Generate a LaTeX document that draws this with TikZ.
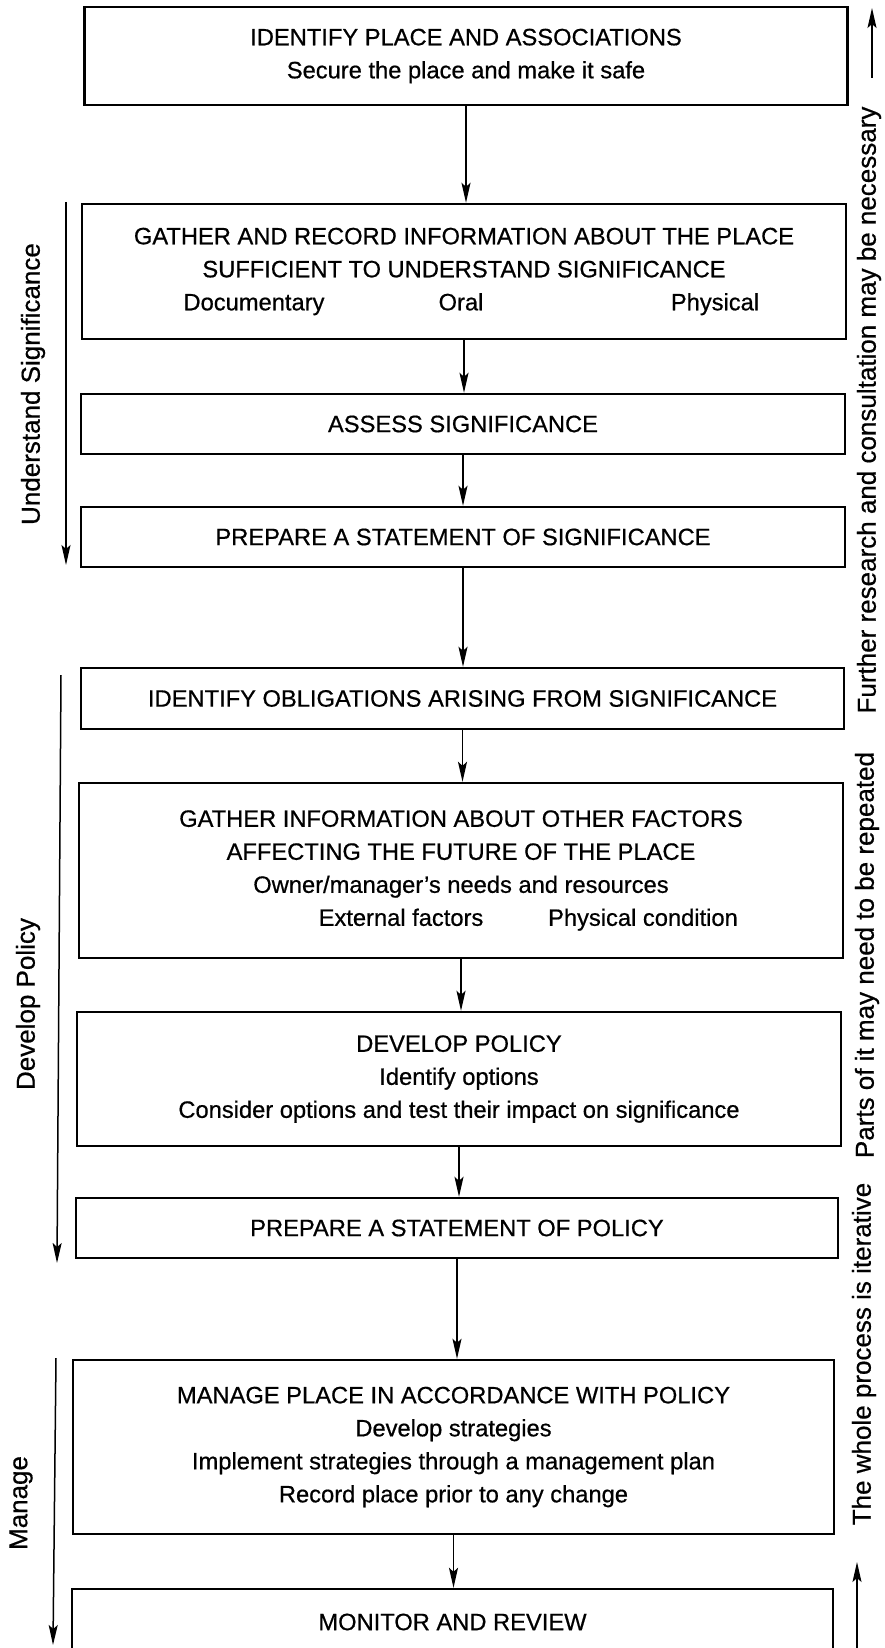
\documentclass[tikz,border=0pt]{standalone}
\usepackage{fontspec}
\setmainfont{Liberation Sans}
\newfontfamily\heavysans[FakeBold=0.6]{Liberation Sans}
\usetikzlibrary{arrows.meta}
\newcommand\boxfont{\heavysans\fontsize{23.7}{33}\selectfont}
\newcommand\sidefont{\heavysans\fontsize{26}{30}\selectfont}
\newcommand\zbox[1]{\makebox[0pt][c]{#1}}
\begin{document}
\begin{tikzpicture}[x=1pt,y=-1pt,
  box/.style={draw, line width=2.4pt, inner sep=0pt, align=center, font=\boxfont},
  arr/.style={-{Stealth[length=20pt,width=9pt,inset=4pt]}, line width=1.5pt},
  side/.style={font=\sidefont, rotate=90, inner sep=0pt}]
\useasboundingbox (0,0) rectangle (884,1648);
\fill[white] (0,0) rectangle (884,1648);

% boxes
\node[box, minimum width=763pt, minimum height=98pt] (b1) at (466,56)
  {IDENTIFY PLACE AND ASSOCIATIONS\\Secure the place and make it safe};
\node[box, minimum width=764pt, minimum height=135pt] (b2) at (464,271.5)
  {GATHER AND RECORD INFORMATION ABOUT THE PLACE\\SUFFICIENT TO UNDERSTAND SIGNIFICANCE\\
   \hspace*{-210pt}\zbox{Documentary}\hspace*{207pt}\zbox{Oral}\hspace*{254pt}\zbox{Physical}\hspace*{-251pt}};
\node[box, minimum width=764pt, minimum height=60pt] (b3) at (463,424) {ASSESS SIGNIFICANCE};
\node[box, minimum width=764pt, minimum height=60pt] (b4) at (463,537) {PREPARE A STATEMENT OF SIGNIFICANCE};
\node[box, minimum width=763pt, minimum height=61pt] (b5) at (462.5,698.5) {IDENTIFY OBLIGATIONS ARISING FROM SIGNIFICANCE};
\node[box, minimum width=764pt, minimum height=175pt] (b6) at (461,870.5)
  {GATHER INFORMATION ABOUT OTHER FACTORS\\AFFECTING THE FUTURE OF THE PLACE\\Owner/manager’s needs and resources\\
   \hspace*{-60pt}\zbox{External factors}\hspace*{242pt}\zbox{Physical condition}\hspace*{-182pt}};
\node[box, minimum width=764pt, minimum height=134pt] (b7) at (459,1079)
  {DEVELOP POLICY\\Identify options\\Consider options and test their impact on significance};
\node[box, minimum width=762pt, minimum height=60pt] (b8) at (457,1228) {PREPARE A STATEMENT OF POLICY};
\node[box, minimum width=761pt, minimum height=174pt] (b9) at (453.5,1447)
  {MANAGE PLACE IN ACCORDANCE WITH POLICY\\Develop strategies\\Implement strategies through a management plan\\Record place prior to any change};
\node[box, minimum width=761pt, minimum height=66pt] (b10) at (452.5,1622) {MONITOR AND REVIEW};

% flow arrows
\draw[arr] (b1.south) -- (b1.south |- b2.north);
\draw[arr] (b2.south) -- (b2.south |- b3.north);
\draw[arr] (b3.south) -- (b3.south |- b4.north);
\draw[arr] (b4.south) -- (b4.south |- b5.north);
\draw[arr] (b5.south) -- (b5.south |- b6.north);
\draw[arr] (b6.south) -- (b6.south |- b7.north);
\draw[arr] (b7.south) -- (b7.south |- b8.north);
\draw[arr] (b8.south) -- (b8.south |- b9.north);
\draw[arr] (b9.south) -- (b9.south |- b10.north);

% left phase arrows
\coordinate (u1) at (66,202);  \coordinate (u2) at (66,565);
\coordinate (d1) at (61,675);  \coordinate (d2) at (57,1263);
\coordinate (m1) at (56,1358); \coordinate (m2) at (53,1645);
\draw[arr] (u1) -- (u2);
\draw[arr] (d1) -- (d2);
\draw[arr] (m1) -- (m2);
\node[side] (lu) at (33,384) {Understand Significance};
\node[side] (ld) at (28,1004) {Develop Policy};
\node[side] (lm) at (21,1503) {Manage};

% right side
\coordinate (r1) at (872,78);   \coordinate (r2) at (872,8);
\coordinate (r3) at (857,1648); \coordinate (r4) at (857,1562);
\draw[arr] (r1) -- (r2);
\draw[arr] (r3) -- (r4);
\node[side] (rf) at (869,410) {Further research and consultation may be necessary};
\node[side] (rp) at (867,955) {Parts of it may need to be repeated};
\node[side] (rw) at (864,1354) {The whole process is iterative};
\end{tikzpicture}
\end{document}
